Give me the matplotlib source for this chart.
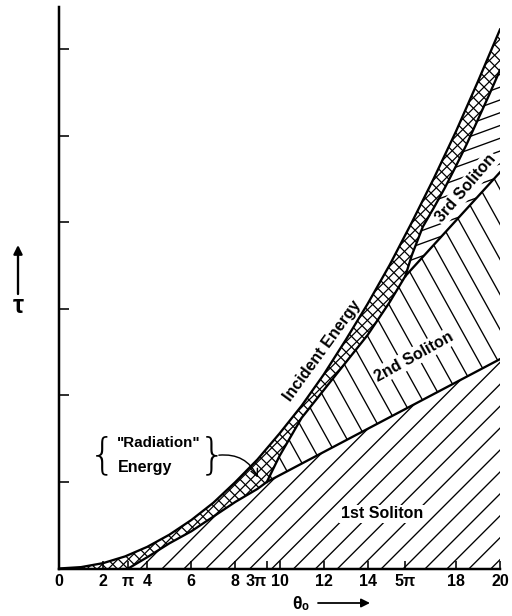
import numpy as np
import matplotlib
matplotlib.use("Agg")
import matplotlib.pyplot as plt
from matplotlib.patches import Polygon
from matplotlib.collections import LineCollection
from matplotlib.transforms import Affine2D

DPI = 128
PI = np.pi

# incident pulse energy vs input area theta_0
theta_incident = list(range(21))
tau_incident = [0, 0.016, 0.062, 0.14, 0.25, 0.39, 0.56, 0.76, 1.0, 1.26, 1.56,
                1.88, 2.24, 2.64, 3.06, 3.51, 4.0, 4.51, 5.05, 5.63, 6.23]

# cumulative soliton energy boundaries
theta_sol1 = [PI, 4, 5, 6, 7, 8, 9, 3 * PI, 20]
tau_sol1 = [0, 0.13, 0.29, 0.43, 0.6, 0.77, 0.92, 1.0, 2.42]

theta_sol2 = [3 * PI, 10, 10.5, 11, 12, 13, 14, 15, 5 * PI, 20]
tau_sol2 = [1.0, 1.3, 1.52, 1.74, 2.06, 2.38, 2.7, 3.08, 3.38, 4.58]

theta_sol3 = [5 * PI, 16, 16.5, 17, 17.5, 18, 18.5, 19, 19.5, 20]
tau_sol3 = [3.38, 3.62, 3.95, 4.17, 4.4, 4.65, 4.91, 5.19, 5.47, 5.76]

x_ticks = [0, 2, PI, 4, 6, 8, 3 * PI, 10, 12, 14, 5 * PI, 18, 20]
x_labels = ["0", "2", "π", "4", "6", "8", "3π", "10", "12", "14", "5π", "18", "20"]
y_ticks = [1, 2, 3, 4, 5, 6]

plt.rcParams["font.family"] = ["Liberation Sans", "DejaVu Sans"]

fig = plt.figure(figsize=(512 / DPI, 616 / DPI), dpi=DPI)
ax = fig.add_axes([59 / 512, 47.5 / 616, 441 / 512, 561.5 / 616])
px = Affine2D().scale(1 / DPI) + fig.dpi_scale_trans


def hatch_region(xs, ys, angle, spacing, lw):
    poly = Polygon(np.column_stack([xs, ys]), closed=True, fill=False, edgecolor="none")
    ax.add_patch(poly)
    a = np.deg2rad(angle)
    d = np.array([np.cos(a), np.sin(a)])
    n = np.array([-np.sin(a), np.cos(a)])
    c = np.array([256.0, 308.0])
    segs = []
    for off in np.arange(-800, 800, spacing):
        p = c + n * off
        segs.append([p - d * 900, p + d * 900])
    lc = LineCollection(segs, colors="black", linewidths=lw, transform=px)
    ax.add_collection(lc, autolim=False)
    lc.set_clip_path(poly)


def upto(xs, ys, lim):
    return ([x for x in xs if x <= lim + 1e-9], [y for x, y in zip(xs, ys) if x <= lim + 1e-9])


def from_(xs, ys, lim):
    return ([x for x in xs if x >= lim - 1e-9], [y for x, y in zip(xs, ys) if x >= lim - 1e-9])


# radiation band: between incident curve and soliton envelope
s1x, s1y = upto(theta_sol1, tau_sol1, 3 * PI)
s2x, s2y = upto(theta_sol2, tau_sol2, 5 * PI)
env_x = [0] + s1x + s2x[1:] + theta_sol3[1:]
env_y = [0] + s1y + s2y[1:] + tau_sol3[1:]
rad_x = theta_incident + env_x[::-1]
rad_y = tau_incident + env_y[::-1]
hatch_region(rad_x, rad_y, 45, 7.5, 0.7)
hatch_region(rad_x, rad_y, -45, 7.5, 0.7)

# 1st soliton
hatch_region(theta_sol1 + [20], tau_sol1 + [0], 45, 15.5, 0.75)

# 2nd soliton
l1x, l1y = from_(theta_sol1, tau_sol1, 3 * PI)
hatch_region(theta_sol2 + l1x[::-1], tau_sol2 + l1y[::-1], -61, 17, 0.75)

# 3rd soliton
l2x, l2y = from_(theta_sol2, tau_sol2, 5 * PI)
hatch_region(theta_sol3 + l2x[::-1], tau_sol3 + l2y[::-1], 20, 12, 0.75)

for xs, ys in [(theta_incident, tau_incident), (theta_sol1, tau_sol1),
               (theta_sol2, tau_sol2), (theta_sol3, tau_sol3)]:
    ax.plot(xs, ys, color="black", lw=1.3, solid_joinstyle="round", zorder=3)

ax.set_xlim(0, 20)
ax.set_ylim(0, 6.49)
for s in ["top", "right"]:
    ax.spines[s].set_visible(False)
for s in ["left", "bottom"]:
    ax.spines[s].set_linewidth(1.4)
    ax.spines[s].set_zorder(4)

ax.set_xticks(x_ticks)
ax.set_xticklabels(x_labels, fontsize=9, fontweight="bold")
ax.set_yticks(y_ticks)
ax.set_yticklabels([])
ax.tick_params(axis="x", direction="in", length=4.5, width=0.9, pad=3)
ax.tick_params(axis="y", direction="in", length=5.5, width=0.9)
ax.get_xticklabels()[6].set_ha("right")

txt = dict(fontsize=9, fontweight="bold", ha="center", va="center")
box = dict(facecolor="white", edgecolor="none", pad=1.0)
ax.text(11.95, 2.52, "Incident Energy", rotation=54, rotation_mode="anchor", **txt)
ax.text(16.1, 2.45, "2nd Soliton", rotation=29, rotation_mode="anchor", bbox=box, **txt)
ax.text(18.46, 4.40, "3rd Soliton", rotation=49.5, rotation_mode="anchor", bbox=box, **txt)
ax.text(14.65, 0.63, "1st Soliton", bbox=box, **txt)

# "Radiation" energy note
ax.text(4.54, 1.45, '"Radiation"', fontsize=8.5, fontweight="bold", ha="center", va="center")
ax.text(3.90, 1.17, "Energy", **txt)
ax.text(1.95, 1.30, "{", fontsize=24, family="DejaVu Sans", fontweight="light",
        ha="center", va="center")
ax.text(6.95, 1.30, "}", fontsize=24, family="DejaVu Sans", fontweight="light",
        ha="center", va="center")
ax.annotate("", xy=(9.02, 1.05), xytext=(7.25, 1.31),
            arrowprops=dict(arrowstyle="->", lw=0.8, color="black",
                            connectionstyle="arc3,rad=-0.35", shrinkA=0, shrinkB=0))

# axis labels with arrows
fig.text(18, 616 - 306, "τ", transform=px, fontsize=14, fontweight="bold",
         ha="center", va="center")
ax.annotate("", xy=(18, 616 - 245), xytext=(18, 616 - 294), xycoords=px, textcoords=px,
            arrowprops=dict(arrowstyle="-|>", lw=1.3, color="black", shrinkA=0, shrinkB=0,
                            mutation_scale=10), annotation_clip=False)
fig.text(301, 616 - 604, "θ₀", transform=px, fontsize=10, fontweight="bold",
         ha="center", va="center")
ax.annotate("", xy=(370, 616 - 603), xytext=(318, 616 - 603), xycoords=px, textcoords=px,
            arrowprops=dict(arrowstyle="-|>", lw=1.0, color="black", shrinkA=0, shrinkB=0,
                            mutation_scale=10), annotation_clip=False)

fig.savefig("out.png", dpi=DPI)
